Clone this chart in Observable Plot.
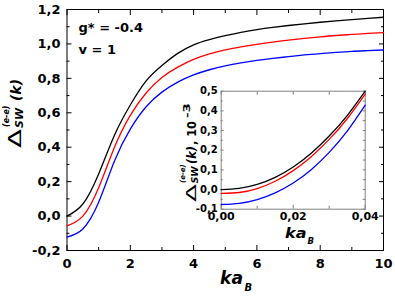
<!DOCTYPE html>
<html><head><meta charset="utf-8">
<script src="https://cdn.jsdelivr.net/npm/d3@7"></script>
<script src="https://cdn.jsdelivr.net/npm/@observablehq/plot@0.6"></script>
<style>
body{margin:0;background:#fff;}
#wrap{position:relative;width:395px;height:296px;}
#wrap svg{position:absolute;left:0;top:0;}
</style></head><body><div id="wrap"></div>
<script>
// ---- main panel data ----
const kMain = [0,0.5,1,1.5,2,2.5,3,3.5,4,4.5,5,5.5,6,6.5,7,7.5,8,8.5,9,9.5,10];
const blackMain = [0.0,0.07,0.245,0.47,0.645,0.785,0.875,0.945,0.995,1.025,1.048,1.067,1.083,1.096,1.107,1.117,1.126,1.134,1.141,1.148,1.155];
const redMain = [-0.057,0.0,0.165,0.40,0.585,0.715,0.805,0.865,0.91,0.942,0.965,0.983,0.998,1.011,1.022,1.032,1.041,1.049,1.055,1.061,1.066];
const blueMain = [-0.122,-0.075,0.08,0.32,0.505,0.635,0.72,0.778,0.82,0.85,0.873,0.89,0.904,0.916,0.926,0.936,0.944,0.951,0.957,0.961,0.965];
const xMajor = [0,2,4,6,8,10];
const xMinor = [1,3,5,7,9];
const yMajor = [-0.2,0,0.2,0.4,0.6,0.8,1.0,1.2];
const yMinor = [-0.1,0.1,0.3,0.5,0.7,0.9,1.1];
const annotations = ["g* = -0.4","v = 1"];

// ---- inset data ----
const kInset = [0,0.005,0.01,0.015,0.02,0.025,0.03,0.035,0.04];
const blackInset = [0,0.006,0.026,0.062,0.115,0.185,0.272,0.376,0.5];
const redInset = [-0.02,-0.015,0.005,0.042,0.096,0.167,0.255,0.36,0.485];
const blueInset = [-0.076,-0.070,-0.051,-0.017,0.033,0.101,0.189,0.297,0.429];
const ixMajor = [0,0.02,0.04];
const ixMinor = [0.01,0.03];
const iyMajor = [-0.1,0,0.1,0.2,0.3,0.4,0.5];
const iyMinor = [-0.05,0.05,0.15,0.25,0.35,0.45];

const colors = ["#000000","#ff0000","#0000ff"];
const FONT = "DejaVu Sans, sans-serif";
const fmt1 = d => d.toFixed(1).replace(".", ",");
const fmt2 = d => d.toFixed(2).replace(".", ",");
const mk = (ks, vs) => ks.map((k,i) => ({k, v: vs[i]}));

const mainSeries = [blackMain, redMain, blueMain].map(vs => mk(kMain, vs));
const insetSeries = [blackInset, redInset, blueInset].map(vs => mk(kInset, vs));

const tickTxt = {fontSize: 13, fontWeight: "bold", fill: "black", stroke: "black", label: null};

const main = Plot.plot({
  width: 395, height: 296,
  marginLeft: 66.5, marginRight: 12, marginTop: 9, marginBottom: 46,
  style: {fontFamily: FONT, background: "white", overflow: "visible"},
  x: {domain: [0, 10]},
  y: {domain: [-0.2, 1.2]},
  marks: [
    Plot.axisX({...tickTxt, ticks: xMajor, tickSize: -5, tickPadding: 13, tickFormat: d => String(d)}),
    Plot.axisX({ticks: xMinor, tickSize: -3, fill: "none", stroke: "black", label: null}),
    Plot.axisX({anchor: "top", ticks: xMajor, tickSize: -5, fill: "none", stroke: "black", label: null}),
    Plot.axisX({anchor: "top", ticks: xMinor, tickSize: -3, fill: "none", stroke: "black", label: null}),
    Plot.axisY({...tickTxt, ticks: yMajor, tickSize: -5, tickPadding: 11.5, tickFormat: fmt1}),
    Plot.axisY({ticks: yMinor, tickSize: -3, fill: "none", stroke: "black", label: null}),
    Plot.axisY({anchor: "right", ticks: yMajor, tickSize: -5, fill: "none", stroke: "black", label: null}),
    Plot.axisY({anchor: "right", ticks: yMinor, tickSize: -3, fill: "none", stroke: "black", label: null}),
    Plot.frame({stroke: "black", strokeWidth: 1}),
    ...mainSeries.map((d, i) => Plot.line(d, {x: "k", y: "v", stroke: colors[i], strokeWidth: 1.3, curve: "natural"})),
    Plot.text([annotations[0]], {frameAnchor: "top-left", dx: 11.5, dy: 18, text: d => d, textAnchor: "start", lineAnchor: "middle", fontSize: 13, fontWeight: "bold", fill: "black"}),
    Plot.text([annotations[1]], {frameAnchor: "top-left", dx: 11.5, dy: 40.5, text: d => d, textAnchor: "start", lineAnchor: "middle", fontSize: 13, fontWeight: "bold", fill: "black"})
  ]
});

const inset = Plot.plot({
  width: 395, height: 296,
  marginLeft: 220.7, marginRight: 30.3, marginTop: 90.7, marginBottom: 87.3,
  style: {fontFamily: FONT, background: "transparent", overflow: "visible"},
  x: {domain: [0, 0.04]},
  y: {domain: [-0.1, 0.5]},
  marks: [
    Plot.frame({fill: "white", stroke: "#808080", strokeWidth: 1}),
    Plot.axisX({ticks: ixMajor, tickSize: -4, tickPadding: 7, tickFormat: fmt2, fontSize: 11, fontWeight: "bold", fill: "black", stroke: "#808080", label: null}),
    Plot.axisX({ticks: ixMinor, tickSize: -3, fill: "none", stroke: "#808080", label: null}),
    Plot.axisX({anchor: "top", ticks: ixMajor.concat(ixMinor), tickSize: -3, fill: "none", stroke: "#808080", label: null}),
    Plot.axisY({ticks: iyMajor, tickSize: -3, tickPadding: 6.5, tickFormat: fmt1, fontSize: 10, fontWeight: "bold", fill: "black", stroke: "#808080", label: null}),
    Plot.axisY({ticks: iyMinor, tickSize: -2, fill: "none", stroke: "#808080", label: null}),
    Plot.axisY({anchor: "right", ticks: iyMajor.concat(iyMinor), tickSize: -3, fill: "none", stroke: "#808080", label: null}),
    ...insetSeries.map((d, i) => Plot.line(d, {x: "k", y: "v", stroke: colors[i], strokeWidth: 1.3, curve: "natural"}))
  ]
});

const wrap = document.getElementById("wrap");
wrap.appendChild(main);
wrap.appendChild(inset);

// rich-text labels built from positioned pieces
function richLabel(svg, tx, ty, rot, pieces) {
  const g = svg.append("g").attr("transform", `translate(${tx},${ty}) rotate(${rot})`)
    .attr("font-family", FONT).attr("fill", "black").attr("text-anchor", "start");
  for (const p of pieces) {
    const t = g.append("text").attr("x", p.x).attr("y", p.y || 0).attr("font-size", p.size)
      .attr("text-anchor", "start")
      .attr("font-weight", p.bold === false ? "normal" : "bold")
      .attr("font-style", p.italic ? "italic" : "normal").text(p.text);
    if (p.len) t.attr("textLength", p.len).attr("lengthAdjust", "spacingAndGlyphs");
  }
}
const ms = d3.select(main), is = d3.select(inset);
// main x label
richLabel(ms, 220, 284, 0, [
  {text: "ka", x: 0, size: 17, italic: true, len: 23},
  {text: "B", x: 24.5, y: 7, size: 10, italic: true}
]);
// main y label
richLabel(ms, 21, 148, -90, [
  {text: "Δ", x: 0, size: 17, bold: false, len: 19},
  {text: "SW", x: 20, y: 2, size: 11, italic: true},
  {text: "(e-e)", x: 21, y: -12.5, size: 8, italic: true},
  {text: "(k)", x: 47, size: 14.5, italic: true, len: 22}
]);
// inset x label
richLabel(is, 285, 238, 0, [
  {text: "ka", x: 0, size: 14, italic: true, len: 21.5},
  {text: "B", x: 22.5, y: 5.5, size: 8.5, italic: true}
]);
// inset y label
richLabel(is, 195.5, 202, -90, [
  {text: "Δ", x: 0, size: 14.5, bold: false, len: 18},
  {text: "SW", x: 18.5, y: 2, size: 9.5, italic: true},
  {text: "(e-e)", x: 19, y: -10.5, size: 7, italic: true},
  {text: "(k)", x: 38, size: 12, italic: true, len: 18},
  {text: ", 10", x: 57, size: 11.5, len: 24},
  {text: "-3", x: 84, y: -6, size: 9.5, len: 15}
]);
</script></body></html>
